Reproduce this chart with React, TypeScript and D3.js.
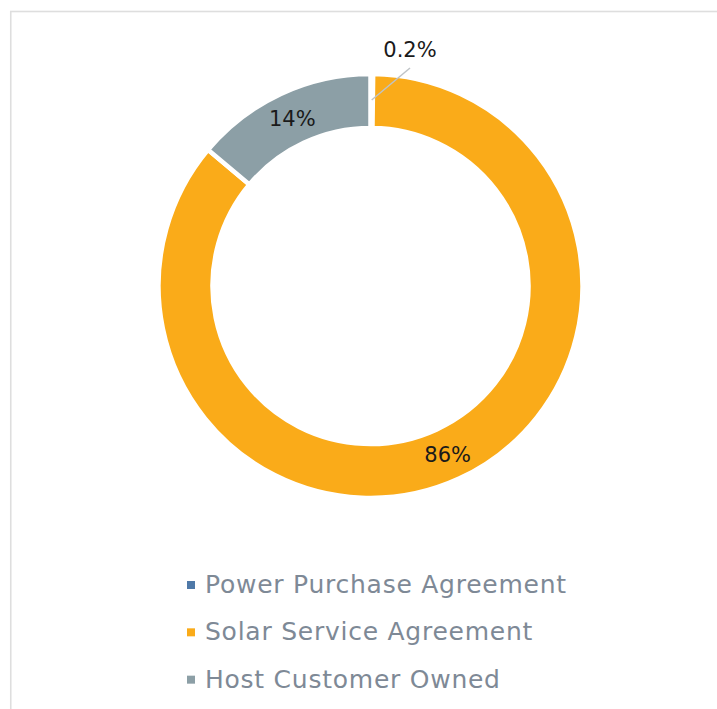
import React from "react";
import * as d3 from "d3";

const categories = ["Power Purchase Agreement", "Solar Service Agreement", "Host Customer Owned"];
const values = [0.2, 85.9, 13.9];
const labels = ["0.2%", "86%", "14%"];
const colors = ["#4F79A8", "#FAAB19", "#8C9FA6"];

const W = 717;
const H = 709;
const cx = 370.5;
const cy = 286;
const outerR = 212;
const innerR = 158;

export default function App() {
  const pie = d3.pie<number>().sort(null).value((d) => d)(values);
  const arc = d3.arc<d3.PieArcDatum<number>>().innerRadius(innerR).outerRadius(outerR);
  const midR = (innerR + outerR) / 2;
  const legendY = d3.scaleBand<string>().domain(categories).range([560, 702]);

  const small = pie[0];
  const smallMid = (small.startAngle + small.endAngle) / 2;
  const lineStart: [number, number] = [cx + (outerR - 26) * Math.sin(smallMid), cy - (outerR - 26) * Math.cos(smallMid)];
  const lineEnd: [number, number] = [410, 68];

  return (
    <svg width={W} height={H} style={{ position: "absolute", left: 0, top: 0, background: "#fff" }}>
      <rect x={10.75} y={11.5} width={W + 20} height={H + 20} fill="none" stroke="#dedede" strokeWidth={1.6} />
      <g transform={`translate(${cx},${cy})`}>
        {pie.map((p, i) => (
          <path key={i} d={arc(p) || ""} fill={colors[i]} stroke="#fff" strokeWidth={4.5} strokeLinejoin="miter" />
        ))}
      </g>
      <line x1={lineStart[0]} y1={lineStart[1]} x2={lineEnd[0]} y2={lineEnd[1]} stroke="#BFC3C6" strokeWidth={1.5} />
      <text x={410} y={50} textAnchor="middle" dominantBaseline="central" fontFamily="DejaVu Sans" fontSize={21} fill="#1a1a1a">
        {labels[0]}
      </text>
      {pie.slice(1).map((p, j) => {
        const i = j + 1;
        const a = (p.startAngle + p.endAngle) / 2;
        const x = cx + midR * Math.sin(a);
        const y = cy - midR * Math.cos(a);
        return (
          <text key={i} x={x} y={y + 1} textAnchor="middle" dominantBaseline="central" fontFamily="DejaVu Sans" fontSize={21} fill="#1a1a1a">
            {labels[i]}
          </text>
        );
      })}
      {categories.map((c, i) => {
        const y = (legendY(c) || 0) + 33;
        return (
          <g key={c}>
            <rect x={187} y={y - 12} width={8} height={8} fill={colors[i]} />
            <text x={205} y={y} fontFamily="DejaVu Sans" fontSize={25} letterSpacing={0.75} fill="#7E8996">
              {c}
            </text>
          </g>
        );
      })}
    </svg>
  );
}
